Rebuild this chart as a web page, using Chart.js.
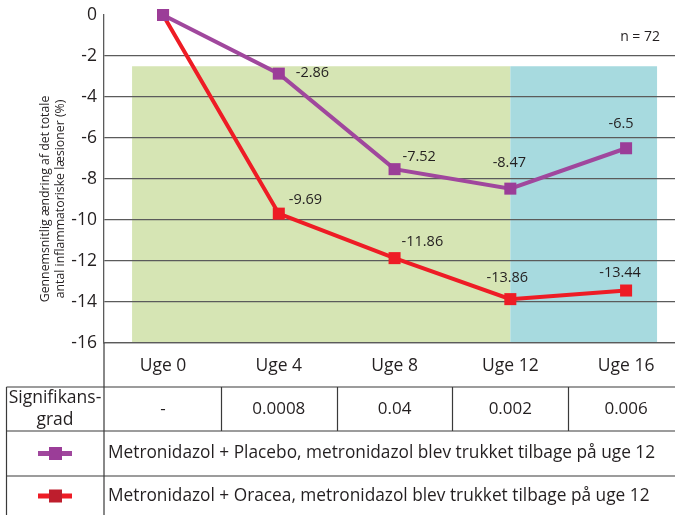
<!DOCTYPE html>
<html>
<head>
<meta charset="utf-8">
<script src="https://cdn.jsdelivr.net/npm/chart.js@4.4.1/dist/chart.umd.min.js"></script>
<style>
  html, body { margin: 0; padding: 0; background: #fff; }
  #wrap { width: 675px; height: 515px; position: relative; }
</style>
</head>
<body>
<div id="wrap"><canvas id="c" width="675" height="515"></canvas></div>
<script>
// ---- data ----
const categories = ["Uge 0", "Uge 4", "Uge 8", "Uge 12", "Uge 16"];
const weeks = [0, 4, 8, 12, 16];
const placebo = [0, -2.86, -7.52, -8.47, -6.5];
const oracea = [0, -9.69, -11.86, -13.86, -13.44];
const significance = ["-", "0.0008", "0.04", "0.002", "0.006"];
const seriesNames = [
  "Metronidazol + Placebo, metronidazol blev trukket tilbage på uge 12",
  "Metronidazol + Oracea, metronidazol blev trukket tilbage på uge 12"
];
const yTicks = [0, -2, -4, -6, -8, -10, -12, -14, -16];
const yTitle = ["Gennemsnitlig ændring af det totale", "antal inflammatoriske læsioner (%)"];
const sigLabel = ["Signifikans-", "grad"];
const nLabel = "n = 72";
// shaded periods (weeks / values)
const greenPeriod = [-1.07, 12];
const bluePeriod = [12, 17.07];
const shadeTop = -2.5;

// ---- styles ----
const FONT = "'Open Sans', 'Noto Sans', sans-serif";
const TXT = "#231f20";
const GRID = "#5b5b5b";
const colors = {
  placebo: { line: "#a0479d", mark: "#9b3d98" },
  oracea: { line: "#ee1c25", mark: "#ee1c25", legendMark: "#be1e2d" }
};
// label offsets relative to point (dx, dy, align)
const labelPos = [
  [null, [17, -1, "left"], [8, -12, "left"], [-1, -26, "center"], [-5, -24, "center"]],
  [null, [10, -14, "left"], [7, -16, "left"], [-3, -21, "center"], [-6, -18, "center"]]
];

const decor = {
  id: "decor",
  beforeDraw(chart) {
    const { ctx } = chart;
    const x = chart.scales.x, y = chart.scales.y;
    ctx.save();
    const yt = y.getPixelForValue(shadeTop), yb = y.getPixelForValue(-16);
    ctx.fillStyle = "#d6e5b4";
    let x0 = x.getPixelForValue(greenPeriod[0]), x1 = x.getPixelForValue(greenPeriod[1]);
    ctx.fillRect(x0, yt, x1 - x0, yb - yt);
    ctx.fillStyle = "#a7dadf";
    x0 = x.getPixelForValue(bluePeriod[0]); x1 = x.getPixelForValue(bluePeriod[1]);
    ctx.fillRect(x0, yt, x1 - x0, yb - yt);
    ctx.restore();
  },
  afterDatasetsDraw(chart) {
    const { ctx } = chart;
    ctx.save();
    ctx.font = "14.5px " + FONT;
    ctx.fillStyle = TXT;
    ctx.textBaseline = "middle";
    [placebo, oracea].forEach((arr, di) => {
      const meta = chart.getDatasetMeta(di);
      arr.forEach((v, i) => {
        const p = labelPos[di][i];
        if (!p) return;
        const el = meta.data[i];
        ctx.textAlign = p[2];
        ctx.fillText(String(v), el.x + p[0], el.y + p[1]);
      });
    });
    ctx.restore();
  },
  afterDraw(chart) {
    const { ctx } = chart;
    const x = chart.scales.x, y = chart.scales.y;
    const left = chart.chartArea.left, right = 675, bottom = chart.chartArea.bottom;
    ctx.save();
    // n = 72
    ctx.font = "14px " + FONT;
    ctx.fillStyle = TXT;
    ctx.textAlign = "right";
    ctx.textBaseline = "middle";
    ctx.fillText(nLabel, 660, 37);
    // y title
    ctx.save();
    ctx.translate(45, 199);
    ctx.rotate(-Math.PI / 2);
    ctx.font = "12.3px " + FONT;
    ctx.textAlign = "center";
    ctx.fillText(yTitle[0], 0, 0);
    ctx.fillText(yTitle[1], 0, 15);
    ctx.restore();

    // table lines
    ctx.strokeStyle = "#3a3a3a";
    ctx.lineWidth = 1.2;
    const rowY = [bottom + 44, bottom + 88, bottom + 133, 515];
    ctx.beginPath();
    ctx.moveTo(left, bottom); ctx.lineTo(left, 515);
    ctx.moveTo(6.5, rowY[0]); ctx.lineTo(6.5, 515);
    for (let k = 0; k < 3; k++) { ctx.moveTo(6.5, rowY[k]); ctx.lineTo(right, rowY[k]); }
    for (let i = 0; i < weeks.length - 1; i++) {
      const xm = Math.round((x.getPixelForValue(weeks[i]) + x.getPixelForValue(weeks[i + 1])) / 2) + 0.5;
      ctx.moveTo(xm, rowY[0]); ctx.lineTo(xm, rowY[1]);
    }
    ctx.stroke();

    // significance values
    ctx.font = "17px " + FONT;
    ctx.fillStyle = TXT;
    ctx.textAlign = "center";
    significance.forEach((s, i) => {
      ctx.fillText(s, x.getPixelForValue(weeks[i]), (rowY[0] + rowY[1]) / 2);
    });
    ctx.font = "17.5px " + FONT;
    ctx.fillText(sigLabel[0], 55, rowY[0] + 11);
    ctx.fillText(sigLabel[1], 55, rowY[0] + 33);

    // legend rows
    const lg = [colors.placebo, colors.oracea];
    ctx.font = "17.3px " + FONT;
    seriesNames.forEach((name, k) => {
      const cy = (k === 0) ? (rowY[1] + rowY[2]) / 2 : (rowY[2] + 515) / 2 + 0.5;
      ctx.strokeStyle = lg[k].line;
      ctx.lineWidth = 5;
      ctx.beginPath(); ctx.moveTo(38, cy); ctx.lineTo(72, cy); ctx.stroke();
      ctx.fillStyle = lg[k].legendMark || lg[k].mark;
      ctx.fillRect(49, cy - 6.5, 13, 13);
      ctx.fillStyle = TXT;
      ctx.textAlign = "left";
      ctx.fillText(name, 108, cy);
    });
    ctx.restore();
  }
};

new Chart(document.getElementById("c"), {
  type: "line",
  data: {
    labels: categories,
    datasets: [
      {
        label: seriesNames[0],
        data: weeks.map((w, i) => ({ x: w, y: placebo[i] })),
        borderColor: colors.placebo.line,
        backgroundColor: colors.placebo.mark,
        borderWidth: 4,
        pointStyle: "rect",
        pointRadius: 8.5,
        pointBorderWidth: 0,
        pointBackgroundColor: colors.placebo.mark,
        tension: 0
      },
      {
        label: seriesNames[1],
        data: weeks.map((w, i) => ({ x: w, y: oracea[i] })),
        borderColor: colors.oracea.line,
        backgroundColor: colors.oracea.mark,
        borderWidth: 4,
        pointStyle: "rect",
        pointRadius: 8.5,
        pointBorderWidth: 0,
        pointBackgroundColor: colors.oracea.mark,
        tension: 0
      }
    ]
  },
  options: {
    responsive: false,
    animation: false,
    clip: false,
    layout: { autoPadding: false, padding: { top: 15, left: 0, right: 0, bottom: 0 } },
    plugins: { legend: { display: false }, tooltip: { enabled: false } },
    scales: {
      x: {
        type: "linear",
        bounds: "data",
        min: -2.04,
        max: 17.69,
        afterBuildTicks: (s) => { s.ticks = weeks.map(v => ({ value: v })); },
        afterFit: (s) => { s.height = 172; s.paddingLeft = 0; s.paddingRight = 0; },
        grid: { display: false, drawTicks: false },
        border: { display: true, color: GRID, width: 1.3 },
        ticks: {
          padding: 13,
          maxRotation: 0,
          autoSkip: false,
          color: TXT,
          font: { family: FONT, size: 17.5 },
          callback: (v) => categories[weeks.indexOf(v)]
        }
      },
      y: {
        min: -16,
        max: 0,
        afterBuildTicks: (s) => { s.ticks = yTicks.map(v => ({ value: v })); },
        afterFit: (s) => { s.width = 104; s.paddingTop = 0; s.paddingBottom = 0; },
        grid: {
          drawTicks: false,
          color: (c) => (c.tick && c.tick.value === 0) ? "rgba(0,0,0,0)" : GRID,
          lineWidth: 1.3
        },
        border: { display: true, color: GRID, width: 1.3 },
        ticks: {
          padding: 7,
          color: TXT,
          font: { family: FONT, size: 17.5 }
        }
      }
    }
  },
  plugins: [decor]
});
</script>
</body>
</html>
